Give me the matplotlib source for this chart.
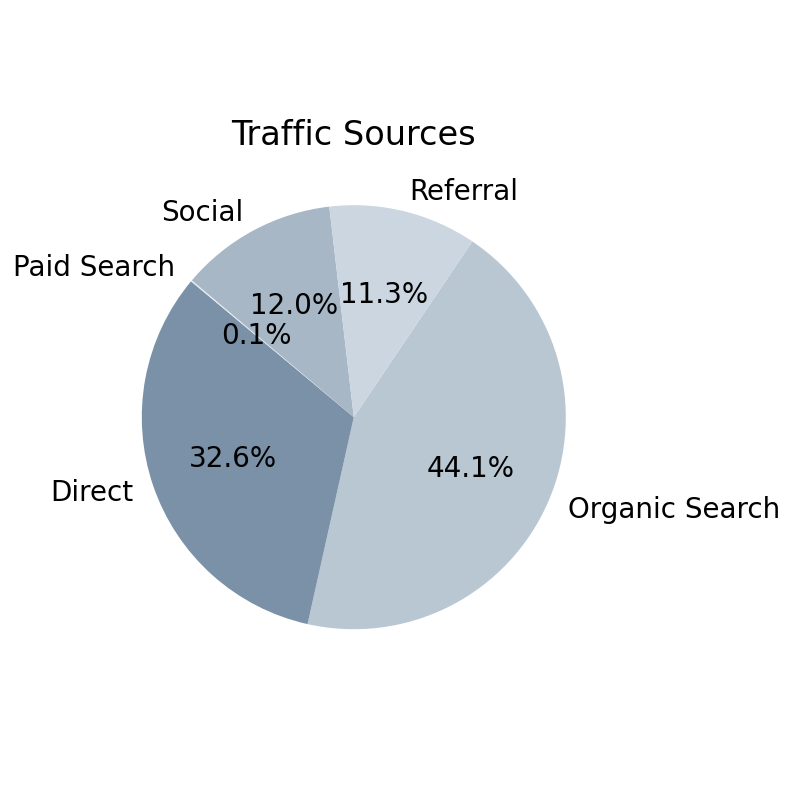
import matplotlib
matplotlib.use("Agg")
import matplotlib.pyplot as plt

# traffic share per source, clockwise from the top right
sources = ["Organic Search", "Direct", "Paid Search", "Social", "Referral"]
shares = [44.1, 32.6, 0.1, 12.0, 11.3]
colors = ["#b9c7d2", "#7a91a7", "#e4eaf0", "#a7b7c5", "#cbd6e0"]

fig = plt.figure(figsize=(4.8, 4.8), dpi=1000 / 6)
ax = fig.add_axes([0.111, 0.146, 0.6625, 0.6625])

ax.pie(shares, labels=sources, colors=colors, autopct="%1.1f%%",
       startangle=56, counterclock=False,
       textprops={"fontsize": 12})
ax.set_title("Traffic Sources", fontsize=14.5, pad=3.5)

fig.savefig("out.png", dpi=1000 / 6)
